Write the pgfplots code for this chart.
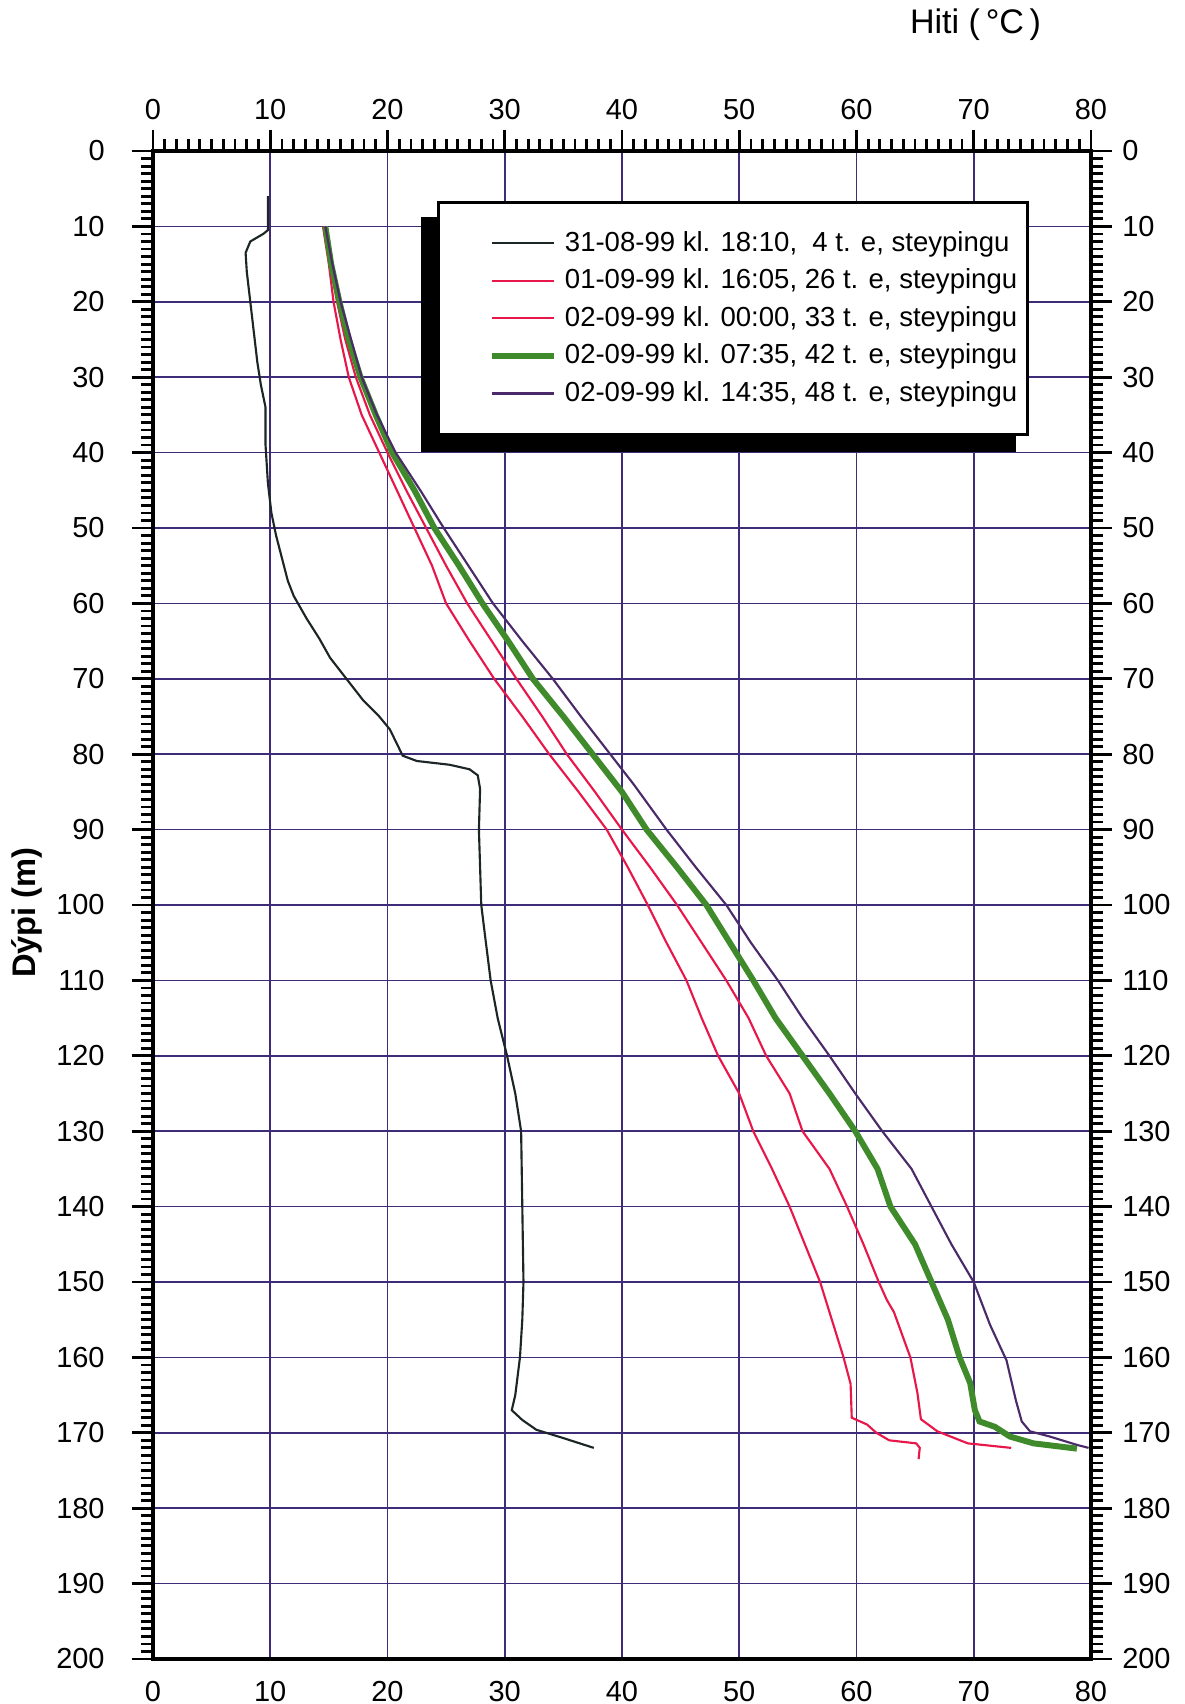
\documentclass[border=0pt]{standalone}
\usepackage{pgfplots}
\pgfplotsset{compat=1.18}
\usepackage{fontspec}
\setmainfont{Liberation Sans}

\definecolor{gridc}{HTML}{3E2C78}
\definecolor{blk}{HTML}{1C2626}
\definecolor{redc}{HTML}{E8174A}
\definecolor{grn}{HTML}{3F8A2A}
\definecolor{pur}{HTML}{4A2A68}

\pgfplotsset{
  common/.style={
    scale only axis, width=330.28pt, height=531pt,
    xmin=0, xmax=80, ymin=0, ymax=200, y dir=reverse,
    xtick={0,10,...,80}, ytick={0,10,...,200},
    tick align=outside,
    major tick length=7.5pt, minor tick length=4.2pt,
    axis line style={line width=1.3pt, black},
    tick style={line width=1pt, black},
    /pgf/number format/assume math mode=true,
    ticklabel style={font=\fontsize{10.2}{12}\selectfont},
  }
}

\begin{document}
\begin{tikzpicture}
\begin{axis}[common, name=ax,
  xtick pos=left, xticklabel pos=left, xtick style={draw=none},
  ytick pos=left, yticklabel pos=left, minor y tick num=9,
  yticklabel style={xshift=-6pt},
  xticklabel style={yshift=3.3pt},
  grid=major, major grid style={gridc, line width=0.6pt},
  ylabel={Dýpi (m)},
  ylabel style={at={(axis description cs:-0.134,0.495)}, anchor=center, font=\fontsize{11.5}{13}\selectfont\bfseries},
  legend cell align=left,
  legend image code/.code={\path[draw=none] (0pt,0pt) -- (15.3pt,0pt); \draw[#1] (15.3pt,0pt) -- (37.3pt,0pt);},
  legend style={at={(axis cs:24.2,6.6)}, anchor=north west, draw=black, line width=1pt, fill=white,
    font=\fontsize{9.7}{11}\selectfont, inner xsep=3.5pt, inner ysep=10.2pt,
    /tikz/row sep=4.7pt, /tikz/column sep=2.8pt, nodes={inner sep=0pt}},
]
\fill[black] (axis cs:22.9,8.7) rectangle (axis cs:73.6,39.9);
\addplot[blk, line width=0.75pt] coordinates {
(9.8,6) (9.8,10.5) (9.4,11) (8.3,12) (7.9,13.5) (8.0,16) (8.3,20) (8.6,24) (8.9,28)
(9.2,31) (9.6,34) (9.6,39) (9.8,44) (10.1,48) (10.5,51) (11.0,54) (11.5,57) (12.0,59)
(13.1,62) (14.2,64.7) (15.1,67.2) (16.5,70) (17.9,72.8) (19.3,75) (20.2,76.7) (21.3,80.2)
(22.5,80.9) (25.3,81.4) (27.0,82) (27.7,82.8) (27.9,84.6) (27.8,90) (28.0,100) (28.3,103.8)
(28.8,110) (29.4,115) (30.2,120) (30.9,125) (31.4,130) (31.5,140) (31.6,150) (31.5,155)
(31.3,160) (30.9,165) (30.6,167) (31.5,168.3) (32.7,169.6) (35.0,170.7) (37.6,172)
};
\addlegendentry{31-08-99 kl. 18:10,\ \ 4 t. e, steypingu}
\addplot[redc, line width=0.75pt] coordinates {
(14.5,10) (15.0,15) (15.4,20) (16.0,25) (16.7,30) (17.8,35) (19.3,40) (20.8,45) (22.3,50)
(23.8,55) (25.0,60) (27.0,65) (29.1,70) (31.5,75) (33.8,80) (36.3,85) (38.7,90) (40.5,95)
(42.2,100) (43.8,105) (45.5,110) (46.8,115) (48.2,120) (50.0,125) (51.2,130) (52.8,135)
(54.3,140) (55.6,145) (56.9,150) (57.9,155) (58.9,160) (59.5,163.5) (59.6,168) (60.9,168.9)
(61.7,170) (62.8,171) (65.1,171.4) (65.4,172) (65.3,173.5)
};
\addlegendentry{01-09-99 kl. 16:05, 26 t. e, steypingu}
\addplot[redc, line width=0.75pt] coordinates {
(14.6,10) (15.1,15) (15.7,20) (16.4,25) (17.3,30) (18.5,35) (20.0,40) (21.6,45) (23.3,50)
(25.0,55) (26.8,60) (28.9,65) (31.0,70) (33.2,75) (35.3,80) (37.7,85) (40.0,90) (42.4,95)
(44.7,100) (46.8,105) (48.9,110) (50.8,115) (52.3,120) (54.3,125) (55.4,130) (57.7,135)
(59.2,140) (60.6,145) (61.9,150) (62.6,152.4) (63.2,154) (64.6,160) (65.2,164.7) (65.5,168.2)
(66.9,169.8) (69.5,171.4) (73.2,172)
};
\addlegendentry{02-09-99 kl. 00:00, 33 t. e, steypingu}
\addplot[grn, line width=2.1pt] coordinates {
(14.7,10) (15.2,15) (15.9,20) (16.7,25) (17.7,30) (19.0,35) (20.4,40) (22.3,45) (24.0,50)
(26.1,55) (28.1,60) (30.3,65) (32.4,70) (35.0,75) (37.5,80) (40.0,85) (42.1,90) (44.7,95)
(47.2,100) (49.2,105) (51.2,110) (53.1,115) (55.4,120) (57.7,125) (59.9,130) (61.8,135)
(62.9,140) (65.0,145) (66.4,150) (67.8,155) (68.8,160) (69.7,163.4) (70.1,167) (70.5,168.5)
(71.8,169.2) (73.1,170.5) (75.1,171.4) (78.8,172.1)
};
\addlegendentry{02-09-99 kl. 07:35, 42 t. e, steypingu}
\addplot[pur, line width=0.75pt] coordinates {
(14.7,10) (15.3,15) (16.0,20) (16.9,25) (17.8,30) (19.1,35) (20.7,40) (22.8,45) (24.8,50)
(26.9,55) (29.0,60) (31.5,65) (34.1,70) (36.5,75) (39.0,80) (41.0,84) (43.8,90) (46.3,95)
(48.9,100) (51.0,105) (53.3,110) (55.4,115) (57.7,120) (59.9,125) (62.2,130) (64.7,135)
(66.4,140) (68.1,145) (70.0,150) (71.4,155.7) (72.8,160.4) (73.6,165.7) (74.1,168.5)
(74.8,169.8) (76.5,170.5) (78.8,171.6) (79.8,172)
};
\addlegendentry{02-09-99 kl. 14:35, 48 t. e, steypingu}
\end{axis}
\begin{axis}[common, clip=false,
  xtick pos=right, xticklabel pos=right, minor x tick num=9,
  ytick pos=right, yticklabel pos=right, minor y tick num=9,
]
\addplot[draw=none] coordinates {(0,0)};
\node[font=\fontsize{12}{14}\selectfont] at (axis description cs:0.877,1.084) {Hiti (\,°C\,)};
\end{axis}
\path (ax.south west) ++(-53.87pt,-15.85pt) coordinate (bl);
\path (ax.north east) ++(33.10pt,53.17pt) coordinate (tr);
\pgfresetboundingbox
\path (bl) rectangle (tr);
\end{tikzpicture}
\end{document}
